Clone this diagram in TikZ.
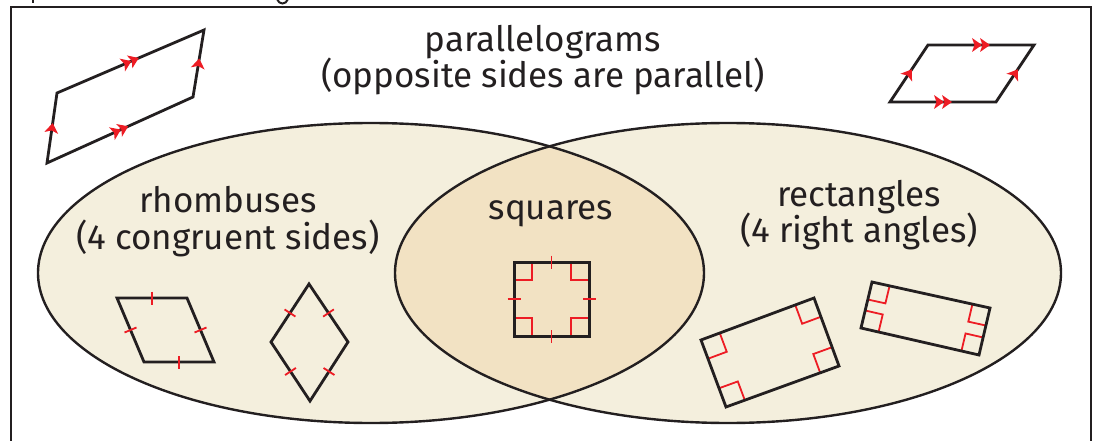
\documentclass[tikz,border=0pt]{standalone}
\usepackage{fontspec}
\setmainfont{Fira Sans}
\usetikzlibrary{calc,decorations.markings}
\definecolor{ink}{RGB}{35,31,32}
\definecolor{mkred}{RGB}{237,28,36}
\definecolor{ellfill}{RGB}{244,239,221}
\definecolor{lensfill}{RGB}{242,226,195}
\newcommand\ahead{\fill[mkred] (5pt,0pt) -- (-5pt,7pt) -- (-2.5pt,0pt) -- (-5pt,-7pt) -- cycle;}
\newcommand\aheadtwo{\begin{scope}[xshift=4pt]\ahead\end{scope}\begin{scope}[xshift=-4pt]\ahead\end{scope}}
\newcommand\tickmk[2]{\draw[redmk] ($(#1)!0.5!(#2)!6.5pt!90:(#2)$) -- ($(#1)!0.5!(#2)!6.5pt!-90:(#2)$);}
\newcommand\ramk[4]{\draw[redmk] let \p1=($(#1)!#4!(#2)$), \p2=($(#1)!#4!(#3)$), \p0=(#1) in (\p1) -- (\x1+\x2-\x0,\y1+\y2-\y0) -- (\p2);}
\tikzset{
  quad/.style={draw=ink, line width=2.8pt, line join=miter},
  redmk/.style={draw=mkred, line width=1.8pt},
  ell/.style={draw=ink, line width=2.4pt},
  lbl/.style={font=\fontsize{35}{42}\selectfont, text=ink, inner sep=0pt, anchor=base},
  sar/.style={postaction={decorate, decoration={markings, mark=at position 0.5 with {\ahead}}}},
  dar/.style={postaction={decorate, decoration={markings, mark=at position 0.5 with {\aheadtwo}}}},
}
\begin{document}
\begin{tikzpicture}[x=1pt, y=-1pt]
\useasboundingbox (0,0) rectangle (1096,441);
\clip (0,0) rectangle (1096,441);
% frame
\draw[ink, line width=2.2pt] (11,460) -- (11,7) -- (1091,7) -- (1091,460);
% fragments of a line of text cut off above the frame
\draw[ink, line width=2.2pt] (33,-2) -- (33,3.5);
\draw[ink, line width=2pt] (277,-1) .. controls (279,5) and (286,5) .. (288,-1);
% ellipses
\fill[ellfill] (371,273) ellipse [x radius=333, y radius=150];
\fill[ellfill] (728,273) ellipse [x radius=333, y radius=150];
\begin{scope}
  \clip (371,273) ellipse [x radius=333, y radius=150];
  \fill[lensfill] (728,273) ellipse [x radius=333, y radius=150];
\end{scope}
\draw[ell] (371,273) ellipse [x radius=333, y radius=150];
\draw[ell] (728,273) ellipse [x radius=333, y radius=150];
% labels
\node[lbl] (t1) at (543,52) {parallelograms};
\node[lbl] (t2) at (543,88) {(opposite sides are parallel)};
\node[lbl] (r1) at (228,213) {rhombuses};
\node[lbl] (r2) at (228,250) {(4 congruent sides)};
\node[lbl] (sq) at (551,219) {squares};
\node[lbl] (e1) at (859,207) {rectangles};
\node[lbl] (e2) at (859,243) {(4 right angles)};
% top-left parallelogram
\coordinate (A) at (57,93); \coordinate (B) at (204,30);
\coordinate (C) at (193,97); \coordinate (D) at (47,163);
\draw[quad] (A) -- (B) -- (C) -- (D) -- cycle;
\path[dar] (A) -- (B); \path[dar] (D) -- (C);
\path[sar] (D) -- (A); \path[sar] (C) -- (B);
% top-right parallelogram
\coordinate (E) at (928,45); \coordinate (F) at (1034,45);
\coordinate (G) at (996,102); \coordinate (H) at (890,102);
\draw[quad] (E) -- (F) -- (G) -- (H) -- cycle;
\path[dar] (E) -- (F); \path[dar] (H) -- (G);
\path[sar] (H) -- (E); \path[sar] (G) -- (F);
% rhombus
\coordinate (Ra) at (117,298); \coordinate (Rb) at (187,298);
\coordinate (Rc) at (214,362); \coordinate (Rd) at (144,362);
\draw[quad] (Ra) -- (Rb) -- (Rc) -- (Rd) -- cycle;
\tickmk{Ra}{Rb} \tickmk{Rb}{Rc} \tickmk{Rc}{Rd} \tickmk{Rd}{Ra}
% diamond
\coordinate (Dt) at (309,284); \coordinate (Dr) at (348,342);
\coordinate (Db) at (310,401); \coordinate (Dl) at (271,342);
\draw[quad] (Dt) -- (Dr) -- (Db) -- (Dl) -- cycle;
\tickmk{Dt}{Dr} \tickmk{Dr}{Db} \tickmk{Db}{Dl} \tickmk{Dl}{Dt}
% square
\coordinate (S1) at (514,262); \coordinate (S2) at (589,262);
\coordinate (S3) at (589,336); \coordinate (S4) at (514,336);
\ramk{S1}{S2}{S4}{18pt} \ramk{S2}{S3}{S1}{18pt}
\ramk{S3}{S4}{S2}{18pt} \ramk{S4}{S1}{S3}{18pt}
\draw[quad, line width=3pt] (S1) -- (S2) -- (S3) -- (S4) -- cycle;
\tickmk{S1}{S2} \tickmk{S2}{S3} \tickmk{S3}{S4} \tickmk{S4}{S1}
% rectangle 1
\coordinate (T1) at (701,340); \coordinate (T2) at (814,298);
\coordinate (T3) at (839,366); \coordinate (T4) at (726,407);
\ramk{T1}{T2}{T4}{20pt} \ramk{T2}{T3}{T1}{20pt}
\ramk{T3}{T4}{T2}{20pt} \ramk{T4}{T1}{T3}{20pt}
\draw[quad] (T1) -- (T2) -- (T3) -- (T4) -- cycle;
% rectangle 2
\coordinate (U1) at (872,282); \coordinate (U2) at (990,308);
\coordinate (U3) at (979,355); \coordinate (U4) at (861,328);
\ramk{U1}{U2}{U4}{18pt} \ramk{U2}{U3}{U1}{18pt}
\ramk{U3}{U4}{U2}{18pt} \ramk{U4}{U1}{U3}{18pt}
\draw[quad] (U1) -- (U2) -- (U3) -- (U4) -- cycle;
\end{tikzpicture}
\end{document}
